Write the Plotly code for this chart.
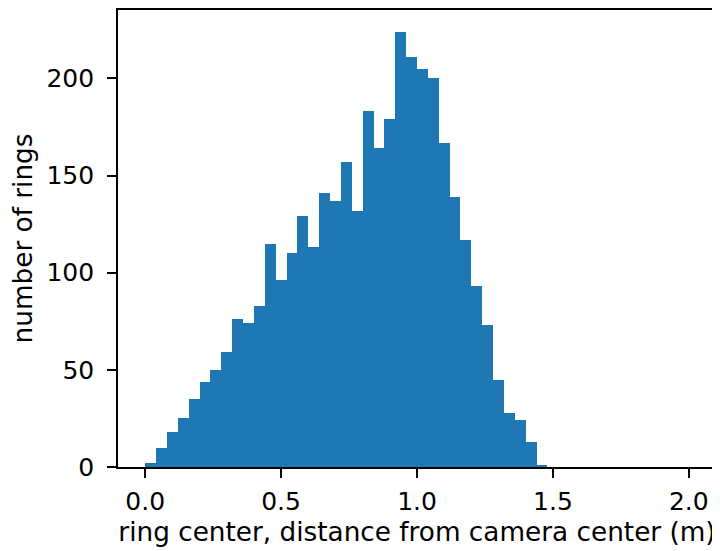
import plotly.graph_objects as go

bin_width = 0.04
bin_starts = [round(i * bin_width, 2) for i in range(50)]
counts = [2, 10, 18, 25, 35, 44, 50, 59, 76, 74,
          83, 115, 96, 110, 129, 113, 141, 137, 157, 132,
          183, 164, 179, 224, 211, 205, 200, 167, 139, 117,
          93, 73, 45, 28, 24, 13, 1, 0, 0, 0,
          0, 0, 0, 0, 0, 0, 0, 0, 0, 0]
x_ticks = [0.0, 0.5, 1.0, 1.5, 2.0]
x_tick_labels = ["0.0", "0.5", "1.0", "1.5", "2.0"]
y_ticks = [0, 50, 100, 150, 200]

centers = [s + bin_width / 2 for s in bin_starts]

fig = go.Figure(go.Bar(
    x=centers, y=counts, width=[bin_width] * len(counts),
    marker=dict(color="#1f77b4", line=dict(width=0)),
))

tick_font = dict(family="DejaVu Sans", size=25, color="black")
title_font = dict(family="DejaVu Sans", size=26.3, color="black")
axis_common = dict(
    showgrid=False, zeroline=False, showline=True, linecolor="black",
    linewidth=1.6, mirror=True, ticks="outside", ticklen=9, tickwidth=1.6,
    tickcolor="black", tickfont=tick_font,
)
# page body has an 8px default margin, so the figure is sized/margined to compensate
fig.update_layout(
    width=712, height=543,
    margin=dict(l=110, r=4, t=0, b=84),
    plot_bgcolor="white", paper_bgcolor="white",
    bargap=0, showlegend=False, font=tick_font,
    xaxis=dict(range=[-0.1, 2.1], tickvals=x_ticks, ticktext=x_tick_labels,
               ticklabelstandoff=2,
               title=dict(text="ring center, distance from camera center (m)", font=title_font, standoff=8),
               **axis_common),
    yaxis=dict(range=[0, 235.2], tickvals=y_ticks,
               ticklabelstandoff=8,
               title=dict(text="number of rings", font=title_font, standoff=6),
               **axis_common),
)
fig.write_html("out.html")
